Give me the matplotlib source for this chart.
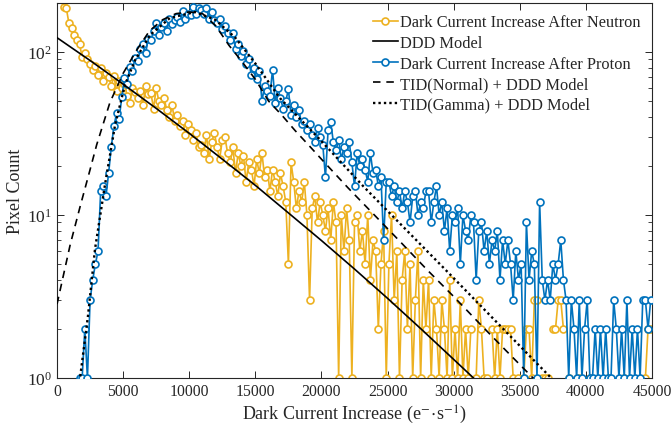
import numpy as np
import matplotlib
matplotlib.use("Agg")
import matplotlib.pyplot as plt

# ---------------- data ----------------
bin_width = 200
bin_centers = np.arange(100, 45000, bin_width)  # 225 bins

neutron_counts = [
    0, 420, 190, 186, 150,
    140, 128, 118, 112, 93,
    98, 90, 84, 78, 82,
    72, 80, 66, 74, 70,
    62, 71, 58, 66, 60,
    64, 54, 49, 60, 57,
    52, 58, 47, 62, 55,
    56, 45, 60, 50, 47,
    52, 44, 40, 47, 38,
    41, 35, 38, 31, 36,
    33, 29, 32, 26, 27,
    24, 31, 22, 28, 32,
    26, 22, 29, 30, 24,
    21, 26, 18, 24, 20,
    23, 16, 21, 19, 15,
    22, 18, 24, 17, 19,
    14, 19, 16, 13, 18,
    15, 12, 5, 21, 16,
    11, 14, 12, 16, 10,
    3, 11, 13, 9, 12,
    10, 8, 11, 7, 12,
    9, 1, 10, 6, 11,
    7, 1, 9, 10, 6,
    8, 5, 10, 4, 7,
    6, 2, 5, 8, 1,
    5, 10, 3, 6, 1,
    4, 6, 2, 5, 1,
    3, 6, 1, 4, 2,
    4, 1, 3, 2, 1,
    3, 2, 1, 4, 1,
    2, 1, 3, 1, 2,
    1, 2, 0, 1, 3,
    2, 1, 1, 0, 2,
    1, 2, 1, 2, 2,
    2, 2, 1, 0, 1,
    0, 1, 2, 2, 1,
    3, 3, 0, 1, 1,
    1, 0, 2, 2, 3,
    3, 2, 0, 1, 0,
    0, 0, 1, 0, 0,
    0, 1, 0, 0, 0,
    0, 0, 0, 1, 0,
    0, 0, 0, 0, 1,
    0, 0, 0, 0, 0,
    0, 0, 1, 2, 2,
]

proton_counts = [
    0, 0, 0, 0, 0,
    0, 0, 0, 1, 1,
    2, 1, 3, 4, 5,
    6, 14, 15, 13, 18,
    26, 35, 42, 39, 53,
    69, 64, 81, 77, 92,
    88, 104, 112, 98, 121,
    118, 135, 150, 128, 142,
    150, 135, 160, 148, 158,
    165, 152, 178, 160, 172,
    168, 190, 172, 185, 180,
    172, 185, 160, 176, 158,
    150, 160, 138, 145, 130,
    118, 130, 104, 112, 95,
    102, 84, 90, 72, 80,
    68, 76, 50, 62, 58,
    54, 78, 49, 60, 52,
    45, 50, 59, 41, 47,
    40, 44, 36, 38, 33,
    36, 31, 28, 34, 30,
    27, 17, 33, 37, 28,
    25, 29, 22, 26, 24,
    28, 21, 15, 24, 20,
    22, 19, 16, 24, 18,
    19, 15, 17, 7, 16,
    16, 13, 15, 12, 14,
    11, 14, 12, 9, 13,
    14, 10, 12, 11, 14,
    14, 9, 12, 15, 10,
    12, 8, 11, 6, 10,
    9, 11, 5, 10, 8,
    7, 10, 9, 4, 8,
    9, 6, 8, 5, 7,
    6, 8, 4, 7, 5,
    7, 5, 3, 6, 4,
    5, 1, 9, 4, 6,
    5, 1, 12, 4, 3,
    4, 3, 5, 4, 5,
    7, 4, 3, 1, 3,
    2, 1, 3, 1, 2,
    3, 1, 1, 2, 1,
    2, 1, 2, 1, 1,
    3, 2, 1, 2, 1,
    3, 1, 2, 1, 2,
    1, 3, 3, 2, 3,
]

# model curves
ddd_x = [0, 2500, 5000, 7500, 10000, 12500, 15000, 17500, 20000, 22500, 25000, 27500, 30000, 31500, 33000]
ddd_y = [122.4, 88.7, 63.5, 45.1, 31.7, 22.0, 15.2, 10.3, 6.97, 4.66, 3.08, 2.01, 1.30, 1.0, 0.76]

tidn_x = [0, 1000, 1750, 2500, 3000, 4000, 5000, 6000, 7000, 8000, 9000, 10000, 11000, 12000,
          13000, 14000, 15000, 16000, 17000, 18000, 19000, 20000, 22000, 24000, 26000, 28000,
          30000, 32000, 34000, 36000, 37000]
tidn_y = [2.84, 6.6, 11.3, 19, 27, 49, 74, 102, 135, 158, 172, 176, 172, 145,
          110, 87, 68, 50, 41, 33, 27, 22, 14.7, 10, 6.8, 4.6,
          3.16, 2.14, 1.46, 1.0, 0.83]

tidg_x = [1500, 1740, 2340, 2875, 3630, 4390, 5140, 5900, 7030, 8550, 10440, 11950, 13460,
          15000, 16870, 19890, 23165, 30000, 37370, 38500]
tidg_y = [0.7, 1.0, 2.4, 6.2, 15.4, 35.7, 63, 89, 127, 162, 176, 158, 123,
          85, 52, 29, 15, 4.1, 1.0, 0.8]

x_ticks = [0, 5000, 10000, 15000, 20000, 25000, 30000, 35000, 40000, 45000]

# ---------------- style ----------------
plt.rcParams['font.family'] = ['Liberation Serif', 'DejaVu Serif']
plt.rcParams['mathtext.fontset'] = 'stix'

c_neutron = '#EDB120'
c_proton = '#0072BD'

fig = plt.figure(figsize=(6.71, 4.39), dpi=100)
ax = fig.add_axes([0.085, 0.1367, 0.8867, 0.8543])


def masked(v):
    v = np.asarray(v, dtype=float)
    return np.where(v > 0, v, np.nan)


ax.plot(bin_centers, masked(neutron_counts), '-o', color=c_neutron, lw=1.2,
        ms=5.0, mew=1.2, mfc='white', label='Dark Current Increase After Neutron', zorder=2)
ax.plot(ddd_x, ddd_y, '-', color='black', lw=1.2, label='DDD Model', zorder=4)
ax.plot(bin_centers, masked(proton_counts), '-o', color=c_proton, lw=1.2,
        ms=5.0, mew=1.2, mfc='white', label='Dark Current Increase After Proton', zorder=3)
ax.plot(tidn_x, tidn_y, color='black', lw=1.2, linestyle=(0, (4.5, 3.5)),
        label='TID(Normal) + DDD Model', zorder=5)
ax.plot(tidg_x, tidg_y, color='black', lw=1.7, linestyle=(0, (1, 1.3)),
        label='TID(Gamma) + DDD Model', zorder=5)

ax.set_yscale('log')
ax.set_xlim(0, 45000)
ax.set_ylim(1, 200)
ax.set_xticks(x_ticks)
ax.set_xticklabels([str(t) for t in x_ticks])

ax.tick_params(which='both', direction='in', top=True, right=True, labelsize=11.3,
               color='#262626', labelcolor='#262626')
ax.tick_params(axis='y', which='major', labelsize=12.5)
ax.tick_params(which='major', length=5, width=0.7)
ax.tick_params(which='minor', length=3, width=0.6)
for s in ax.spines.values():
    s.set_linewidth(0.8)
    s.set_color('#262626')

ax.set_xlabel(r'Dark Current Increase (e$^{-}\!\cdot\!$s$^{-1}$)', fontsize=13, color='#262626', labelpad=3)
ax.set_ylabel('Pixel Count', fontsize=13, color='#262626', labelpad=2)

leg = ax.legend(loc='upper right', frameon=False, fontsize=11.8, handlelength=1.5,
                handletextpad=0.15, labelspacing=0.28, borderaxespad=0.3)
for t in leg.get_texts():
    t.set_color('#262626')

fig.savefig('out.png', dpi=100)
